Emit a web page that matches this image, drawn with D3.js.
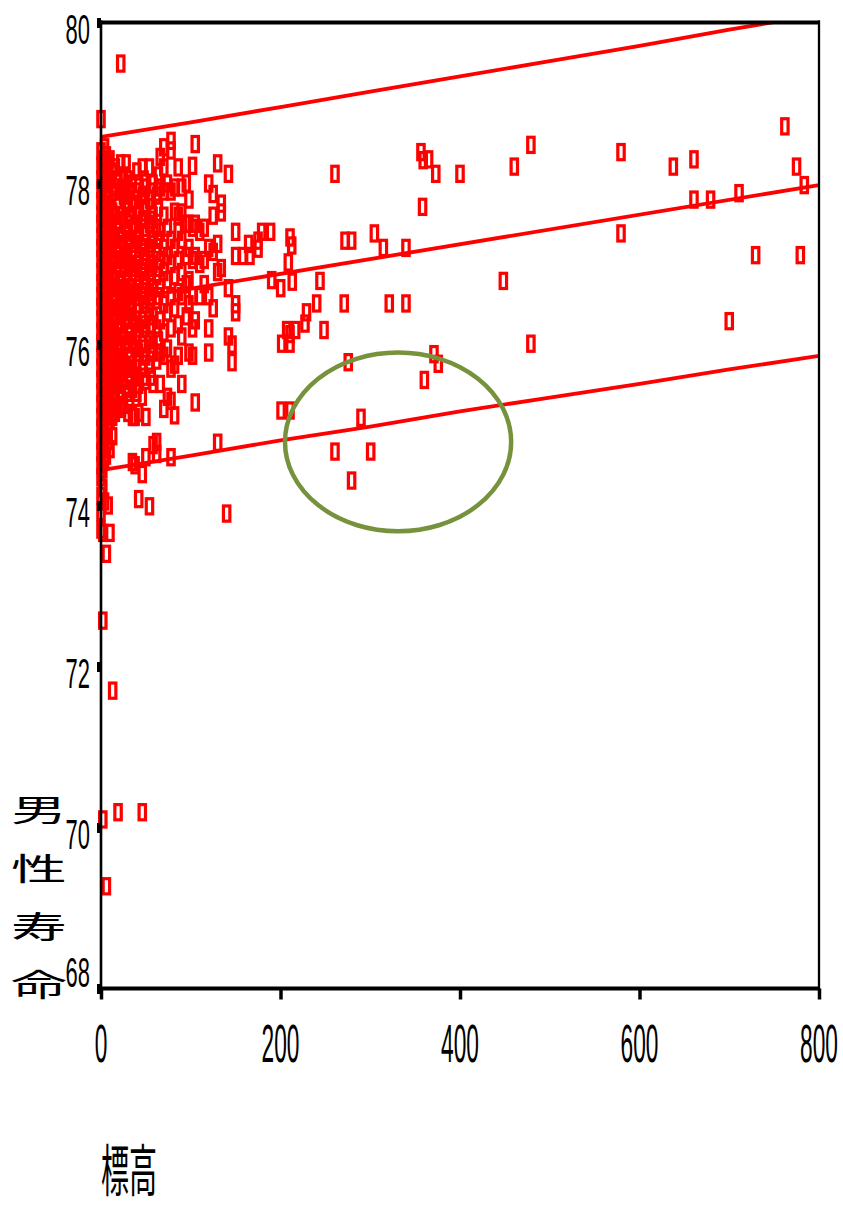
<!DOCTYPE html>
<html>
<head>
<meta charset="utf-8">
<script src="https://cdn.jsdelivr.net/npm/d3@7"></script>
<style>
  body { margin: 0; background: #fff; }
</style>
</head>
<body>
<svg id="chart" width="843" height="1207"></svg>
<script>
"use strict";

// Axis ticks
var yTicks = [68, 70, 72, 74, 76, 78, 80];
var xTicks = [0, 200, 400, 600, 800];

// Regression line and prediction band
var fitX = [0, 800];
var fitY = [76.51, 77.98];
var bandX = [0, 100, 200, 300, 400, 500, 600, 700, 800];
var upperY = [78.58, 78.76, 78.95, 79.14, 79.33, 79.52, 79.71, 79.91, 80.10];
var lowerY = [74.44, 74.62, 74.81, 74.98, 75.17, 75.34, 75.51, 75.69, 75.86];

// Low elevation towns, grouped by elevation column: [elevation, [life expectancy...]]
var lowlandColumns = [
  [0, [78.80, 78.40, 78.22, 78.05, 77.92, 77.78, 77.62, 77.50, 77.34, 77.20, 77.06, 76.90, 76.76, 76.60, 76.47, 76.31, 76.16, 76.02, 75.86, 75.71, 75.56, 75.40, 75.26, 75.10, 74.96, 74.81, 74.66, 74.50, 74.35, 74.12, 73.92, 73.70]],
  [2, [78.30, 78.12, 77.96, 77.70, 77.45, 77.28, 77.12, 76.95, 76.70, 76.54, 76.36, 76.20, 75.95, 75.80, 75.62, 75.45, 75.20, 75.05, 74.86, 74.70, 74.45, 74.22, 73.66, 72.57, 70.10]],
  [4, [78.45, 78.25, 78.00, 77.75, 77.55, 77.40, 77.15, 77.00, 76.82, 76.65, 76.40, 76.25, 76.05, 75.90, 75.65, 75.50, 75.30, 75.15, 74.92, 74.75, 74.55, 74.05]],
  [6, [78.35, 78.10, 77.85, 77.60, 77.36, 77.22, 76.96, 76.75, 76.50, 76.30, 76.10, 75.85, 75.60, 75.36, 75.12, 74.86, 74.62, 73.40, 69.27]],
  [8, [78.26, 78.00, 77.80, 77.52, 77.26, 77.05, 76.85, 76.60, 76.40, 76.15, 75.96, 75.70, 75.46, 75.25, 75.00, 74.80, 74.00]],
  [10, [78.30, 78.05, 77.70, 77.45, 77.20, 76.92, 76.70, 76.45, 76.22, 76.00, 75.75, 75.52, 75.30, 75.05, 74.70, 73.66]],
  [13, [78.15, 77.90, 77.65, 77.40, 77.10, 76.85, 76.56, 76.30, 76.05, 75.80, 75.55, 75.35, 75.10, 74.86, 71.70]],
  [16, [78.20, 77.95, 77.60, 77.35, 77.05, 76.80, 76.60, 76.35, 76.10, 75.85, 75.60, 75.40, 75.15]],
  [19, [78.05, 77.80, 77.50, 77.25, 77.00, 76.70, 76.45, 76.20, 75.95, 75.70, 75.50, 75.22, 70.19]],
  [22, [79.49, 78.25, 77.90, 77.60, 77.30, 77.05, 76.75, 76.50, 76.25, 75.90, 75.65, 75.40, 75.20]],
  [25, [78.10, 77.85, 77.55, 77.20, 76.95, 76.65, 76.40, 76.10, 75.80, 75.55, 75.25]],
  [28, [78.25, 77.95, 77.70, 77.40, 77.10, 76.80, 76.55, 76.30, 76.00, 75.75, 75.45]],
  [30, [78.05, 77.75, 77.50, 77.20, 76.90, 76.60, 76.35, 76.05, 75.70, 75.40, 75.15]],
  [32, [77.90, 77.60, 77.30, 77.00, 76.70, 76.45, 76.15, 75.85, 75.60, 75.30]],
  [35, [78.00, 77.75, 77.45, 77.15, 76.90, 76.60, 76.35, 76.05, 75.70, 75.45, 75.10, 74.54]],
  [38, [77.80, 77.50, 77.25, 76.95, 76.65, 76.25, 75.95, 75.60, 75.10, 74.50]],
  [40, [78.15, 77.90, 77.60, 77.30, 77.00, 76.70, 76.40, 76.10, 75.80, 75.40]],
  [42, [78.00, 77.65, 77.35, 77.05, 76.75, 76.50, 76.20, 75.90, 75.50, 75.15, 74.08]],
  [46, [78.20, 77.85, 77.55, 77.20, 76.90, 76.60, 76.30, 76.00, 75.70, 75.35, 74.39, 70.19]],
  [48, [78.05, 77.75, 77.45, 77.15, 76.85, 76.55, 76.25, 75.95, 75.60]],
  [50, [77.95, 77.70, 77.40, 77.10, 76.80, 76.50, 76.20, 75.85, 75.55, 75.10, 74.60]],
  [54, [78.20, 77.80, 77.50, 77.20, 76.95, 76.65, 76.40, 76.05, 75.75, 73.99]],
  [56, [77.90, 77.55, 77.25, 76.90, 76.60, 76.25, 75.90, 75.60]],
  [58, [78.00, 77.60, 77.30, 77.00, 76.70, 76.35, 76.00, 75.51, 74.75]],
  [62, [77.85, 77.45, 77.15, 76.85, 76.55, 76.20, 75.80, 74.79, 74.64]],
  [64, [78.10, 77.70, 77.30, 76.95, 76.60, 76.05]],
  [66, [78.33, 77.95, 77.40, 77.05, 76.70, 76.30, 75.90, 75.51]],
  [70, [78.45, 78.20, 77.90, 77.60, 77.20, 76.90, 76.50, 76.15, 75.86, 75.20]],
  [74, [78.00, 77.45, 77.10, 76.80, 76.40, 75.95, 75.35]],
  [78, [78.53, 78.41, 77.90, 77.30, 77.00, 76.60, 76.20, 75.70, 75.30, 74.60]],
  [82, [77.95, 77.65, 77.20, 76.85, 76.45, 75.75, 75.12]],
  [86, [78.20, 77.60, 77.40, 77.05, 76.65, 76.25, 75.86]],
  [90, [77.95, 77.64, 77.30, 76.90, 76.60, 76.10, 75.51]],
  [95, [78.00, 77.50, 77.10, 76.75, 76.35]],
  [98, [77.80, 77.50, 77.20, 76.80, 76.50, 75.90]],
  [102, [78.22, 77.45, 77.05, 76.60, 76.20, 75.86]],
  [105, [78.49, 77.50, 77.10, 76.30, 75.28]],
  [110, [77.40, 77.00, 76.60]],
  [115, [77.45, 77.05, 76.75]],
  [120, [78.00, 77.20, 76.60, 76.20, 75.90]],
  [125, [77.87, 77.60, 77.15, 76.45]],
  [130, [78.25, 77.25, 76.90, 74.78]],
  [134, [77.75, 77.64, 76.95]],
  [140, [73.90]],
  [142, [78.12, 76.70, 76.10]],
  [146, [75.78, 76.00]],
  [150, [77.40, 77.10, 76.50, 76.40]],
  [158, [77.10]]
];

// Higher towns: [elevation, life expectancy]
var highlandPoints = [
  [164.5, 77.25], [166, 77.10], [175, 77.29], [175, 77.19], [179, 77.40], [189, 77.40],
  [190.2, 76.80], [200.2, 76.70], [208.7, 77.02], [210.6, 77.33], [212.5, 77.23], [213.1, 76.78],
  [244, 76.79], [240.3, 76.51], [229, 76.40], [227.3, 76.26], [206.9, 76.18], [216.9, 76.18],
  [210.6, 76.13], [201.3, 76.01], [210.6, 76.01], [248.5, 76.18], [271, 76.51], [271.9, 77.29],
  [279.3, 77.29], [304.6, 77.38], [314.6, 77.20], [339.8, 77.20], [321.2, 76.51], [339.8, 76.51],
  [260.7, 78.12], [356.5, 78.39], [359, 78.29], [365, 78.30], [373, 78.12], [400, 78.12],
  [460.5, 78.21], [479, 78.48], [358.3, 77.71], [448.3, 76.79], [479, 76.01], [275.5, 75.78],
  [371, 75.88], [375.8, 75.76], [360.3, 75.56], [200.6, 75.18], [210.6, 75.18], [289.7, 75.09],
  [260.7, 74.67], [300.5, 74.67], [279.2, 74.31], [579.4, 78.39], [637.7, 78.21], [660.7, 78.30],
  [762, 78.71], [775, 78.21], [783.6, 77.98], [660.7, 77.80], [679.2, 77.80], [710.9, 77.88],
  [579.4, 77.38], [729.4, 77.11], [779.2, 77.11], [700, 76.29]
];

// Hand drawn ellipse annotation, in data units
var noteCenter = [331, 74.79];
var noteRadius = [126, 1.11];

window.onload = function() {
  var svg = d3.select("#chart");
  var left = 101, right = 819, top = 22.5, bottom = 988.5;
  var red = "#ff0000";

  var x = d3.scaleLinear().domain([0, 800]).range([left, right]);
  var y = d3.scaleLinear().domain([68, 80]).range([bottom, top]);

  // flatten the columns into points
  var points = [];
  lowlandColumns.forEach(function(c) {
    c[1].forEach(function(v) { points.push([c[0], v]); });
  });
  points = points.concat(highlandPoints);

  svg.append("defs").append("clipPath").attr("id", "plot")
    .append("rect")
    .attr("x", left).attr("y", top)
    .attr("width", right - left).attr("height", bottom - top);

  // markers
  svg.append("g").selectAll("rect")
    .data(points)
    .enter().append("rect")
    .attr("x", function(d) { return x(d[0]) - 3.2; })
    .attr("y", function(d) { return y(d[1]) - 7.6; })
    .attr("width", 6.4)
    .attr("height", 15.2)
    .attr("fill", "none")
    .attr("stroke", red)
    .attr("stroke-width", 3.2);

  // fit line and band
  var lines = svg.append("g").attr("clip-path", "url(#plot)");
  var line = d3.line()
    .x(function(d) { return x(d[0]); })
    .y(function(d) { return y(d[1]); });

  lines.append("path")
    .attr("d", line(d3.zip(fitX, fitY)))
    .attr("fill", "none").attr("stroke", red).attr("stroke-width", 3.8);
  lines.append("path")
    .attr("d", line(d3.zip(bandX, upperY)))
    .attr("fill", "none").attr("stroke", red).attr("stroke-width", 3.8);
  lines.append("path")
    .attr("d", line(d3.zip(bandX, lowerY)))
    .attr("fill", "none").attr("stroke", red).attr("stroke-width", 3.8);

  // ellipse
  svg.append("ellipse")
    .attr("cx", x(noteCenter[0]))
    .attr("cy", y(noteCenter[1]))
    .attr("rx", x(noteCenter[0] + noteRadius[0]) - x(noteCenter[0]))
    .attr("ry", y(noteCenter[1] - noteRadius[1]) - y(noteCenter[1]))
    .attr("fill", "none")
    .attr("stroke", "#76923c")
    .attr("stroke-width", 4.5);

  // frame
  var frame = svg.append("g").attr("stroke", "#000");
  frame.append("line").attr("x1", left).attr("x2", right + 1).attr("y1", top).attr("y2", top).attr("stroke-width", 4);
  frame.append("line").attr("x1", left).attr("x2", right + 1).attr("y1", bottom).attr("y2", bottom).attr("stroke-width", 4);
  frame.append("line").attr("x1", left).attr("x2", left).attr("y1", top - 2).attr("y2", bottom + 2).attr("stroke-width", 2.6);
  frame.append("line").attr("x1", right).attr("x2", right).attr("y1", top - 2).attr("y2", bottom + 2).attr("stroke-width", 2.3);

  // ticks
  var yAxis = svg.append("g")
    .attr("transform", "translate(" + left + ",0)")
    .call(d3.axisLeft(y).tickValues(yTicks).tickSize(4).tickFormat(""));
  yAxis.select(".domain").remove();
  yAxis.selectAll(".tick line").attr("stroke-width", 10);

  var xAxis = svg.append("g")
    .attr("transform", "translate(0," + bottom + ")")
    .call(d3.axisBottom(x).tickValues(xTicks).tickSize(11).tickFormat(""));
  xAxis.select(".domain").remove();
  xAxis.selectAll(".tick line").attr("stroke-width", 3.5);

  function squeezed(px, py, str, size, sx, anchor, family) {
    svg.append("text")
      .attr("transform", "translate(" + px + "," + py + ") scale(" + sx + ",1)")
      .attr("text-anchor", anchor)
      .style("font-family", family)
      .style("font-size", size + "px")
      .attr("fill", "#000")
      .text(str);
  }

  var numFont = "'Liberation Sans', Arial, sans-serif";
  var cjkFont = "'Noto Sans CJK JP', 'Noto Sans CJK SC', sans-serif";

  yTicks.forEach(function(v) {
    var base = v === 68 ? y(v) - 1.5 : y(v) + 21;
    squeezed(90, base, String(v), 43, 0.51, "end", numFont);
  });
  xTicks.forEach(function(v) {
    squeezed(x(v), 1062, String(v), 54, 0.42, "middle", numFont);
  });

  // titles
  var yTitle = ["男", "性", "寿", "命"];
  var yTitleBase = [821, 880, 938, 996];
  yTitle.forEach(function(ch, i) {
    squeezed(39, yTitleBase[i], ch, 31, 1.8, "middle", cjkFont);
  });
  squeezed(101, 1191, "標高", 56, 0.5, "start", cjkFont);
};
</script>
</body>
</html>
